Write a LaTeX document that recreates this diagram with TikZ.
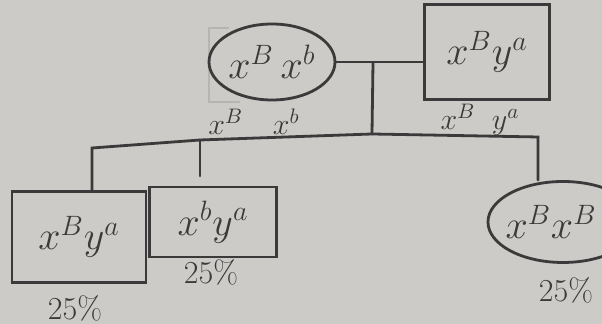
\documentclass[tikz,border=0pt]{standalone}
\usepackage{fix-cm}
\usetikzlibrary{shapes.geometric}

\definecolor{paper}{RGB}{204,203,199}
\definecolor{ink}{RGB}{58,58,58}

\tikzset{
	female/.style={draw=ink, ellipse, line width=1.4pt, inner sep=0pt},
	male/.style={draw=ink, rectangle, line width=1.4pt, inner sep=0pt},
	geno/.style={text=ink, font=\fontsize{20}{22}\selectfont},
	gamete/.style={text=ink, font=\fontsize{15}{17}\selectfont},
	share/.style={text=ink, font=\fontsize{16}{18}\selectfont},
	line/.style={draw=ink, line width=1.4pt, line cap=round},
}

\begin{document}
\begin{tikzpicture}[x=0.5pt, y=-0.5pt]
	\fill[paper] (0,0) rectangle (602,324);
	\useasboundingbox (0,0) rectangle (602,324);
	\clip (0,0) rectangle (602,324);
	
	% parents
	\draw[paper!85!ink, line width=1pt] (229,28) -- (209,28) -- (209,102) -- (240,102);
	\node[female, geno, minimum width=63pt, minimum height=38pt] (mother) at (272,62) {$x^{B}\,x^{b}$};
	\node[male, geno, minimum width=62.5pt, minimum height=47.5pt] (father) at (487,52) {$x^{B}y^{a}$};
	\node[gamete] (mgam) at (254,122) {$x^{B}\quad x^{b}$};
	\node[gamete] (fgam) at (480,120) {$x^{B}\;\;y^{a}$};
	
	% children
	\node[male, geno, minimum width=67pt, minimum height=45.5pt] (son1) at (79,237) {$x^{B}y^{a}$};
	\node[male, geno, minimum width=63.5pt, minimum height=35pt] (son2) at (213,222) {$x^{b}y^{a}$};
	\node[female, minimum width=75pt, minimum height=40.5pt] (daughter) at (563,222) {};
	\node[geno] (dlab) at (551,222) {$x^{B}x^{B}$};
	\node[share] (p1) at (75,308) {25\%};
	\node[share] (p2) at (211,272) {25\%};
	\node[share] (p3) at (566,290) {25\%};
	
	\coordinate (mate) at (373,63);
	\coordinate (sib) at (372,134);
	\coordinate (s1) at (92,148);
	\coordinate (s2) at (200,140);
	\coordinate (s3) at (538,137);
	\coordinate (d2) at (200,176);
	
	\draw[line] (mother.east) -- (mother.east -| father.west);
	\draw[line] (mate) -- (sib);
	\draw[line] (s1 |- son1.north) -- (s1) -- (s2) -- (sib) -- (s3) -- (s3 |- daughter.north);
	\draw[line] (s2) -- (d2);
\end{tikzpicture}
\end{document}
